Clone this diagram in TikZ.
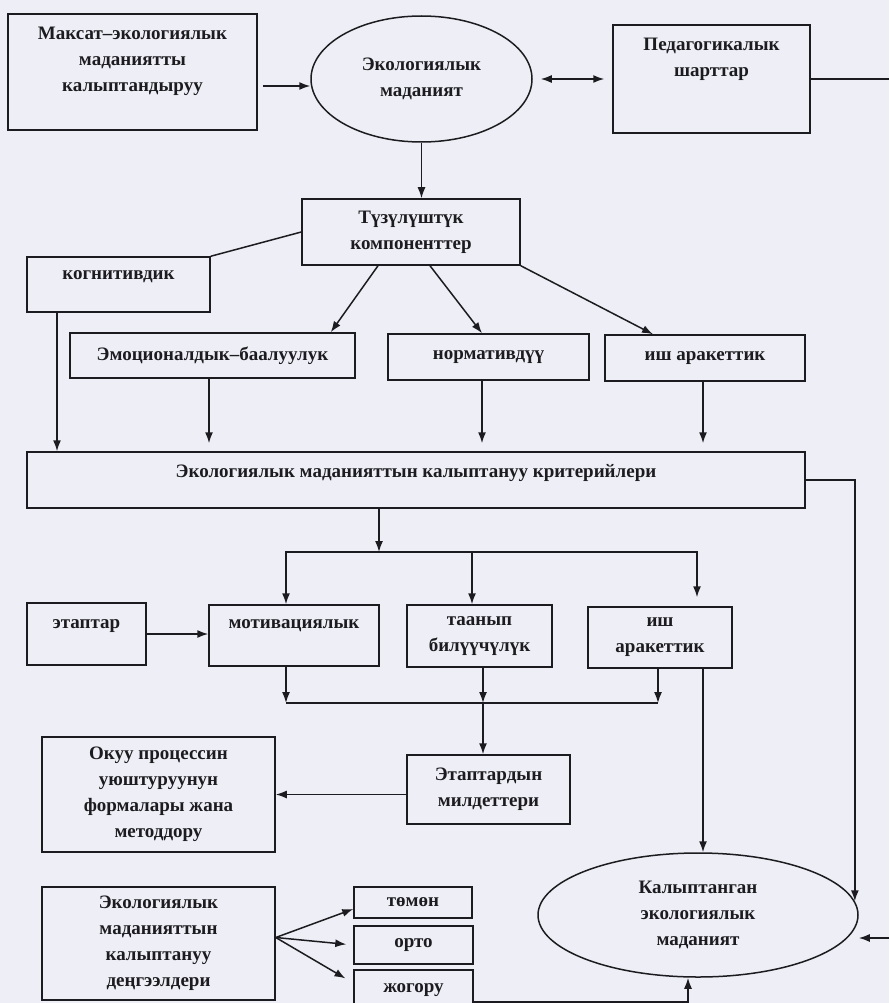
\documentclass[tikz,border=0pt]{standalone}
\usepackage{fontspec}
\setmainfont{Liberation Serif}
\usetikzlibrary{arrows.meta,shapes.geometric}

\definecolor{paper}{RGB}{238,238,246}
\definecolor{ink}{RGB}{28,28,32}

% extra depth under the last line, to lift the text in its box
\newcommand{\padbelow}[1]{\rule[-#1pt]{0pt}{#1pt}}

\tikzset{
  box/.style={draw=ink, line width=1.5pt, align=center, inner sep=0pt, text=ink,
    font=\bfseries\fontsize{19}{26}\selectfont},
  oval/.style={box, ellipse},
  link/.style={draw=ink, line width=1.5pt},
  >={Latex[length=11pt,width=8pt]}
}

\begin{document}
\begin{tikzpicture}[x=1pt,y=-1pt]

% Paper
\fill[paper] (0,0) rectangle (889,1003);
\useasboundingbox (0,0) rectangle (889,1003);

% Draw the top row
\node[box, minimum width=249pt, minimum height=116pt] (maksat) at (132.5,72) {Максат–экологиялык\\маданиятты\\калыптандыруу\padbelow{25}};
\node[oval, minimum width=221pt, minimum height=126pt] (ekomad) at (421.5,79) {Экологиялык\\маданият};
\node[box, minimum width=197pt, minimum height=108pt] (peda) at (711.5,79) {Педагогикалык\\шарттар\padbelow{43}};
\coordinate (rimtop) at (889,79);

% Draw the components
\node[box, minimum width=218pt, minimum height=66pt] (tuzul) at (411,232) {Түзүлүштүк\\компоненттер};
\node[box, minimum width=183pt, minimum height=55pt] (kogn) at (118.5,284.5) {когнитивдик\padbelow{18}};
\node[box, minimum width=285pt, minimum height=45pt] (emo) at (212.5,355.5) {Эмоционалдык–баалуулук};
\node[box, minimum width=201pt, minimum height=46pt] (norm) at (488.5,357) {нормативдүү};
\node[box, minimum width=200pt, minimum height=46pt] (ish1) at (705,358) {иш аракеттик};

% Criteria and stages
\node[box, minimum width=778pt, minimum height=56pt] (krit) at (416,480) {Экологиялык маданияттын калыптануу критерийлери\padbelow{18}};
\node[box, minimum width=119pt, minimum height=62pt] (etap) at (86.5,634) {этаптар\padbelow{20}};
\node[box, minimum width=170pt, minimum height=61pt] (motiv) at (294,635.5) {мотивациялык\padbelow{22}};
\node[box, minimum width=145pt, minimum height=62pt] (taanyp) at (479.5,636) {таанып\\билүүчүлүк};
\node[box, minimum width=144pt, minimum height=61pt] (ish2) at (660,637.5) {иш\\аракеттик};

% Tasks, forms and levels
\node[box, minimum width=163pt, minimum height=69pt] (etmil) at (488.5,789.5) {Этаптардын\\милдеттери};
\node[box, minimum width=233pt, minimum height=115pt] (okuu) at (158.5,794.5) {Окуу процессин\\уюштуруунун\\формалары жана\\методдору};
\node[box, minimum width=233pt, minimum height=113pt] (ekodeng) at (158.5,943.5) {Экологиялык\\маданияттын\\калыптануу\\деңгээлдери};
\node[box, minimum width=118pt, minimum height=31pt] (tomon) at (413,902.5) {төмөн};
\node[box, minimum width=119pt, minimum height=38pt] (orto) at (413.5,945) {орто};
\node[box, minimum width=119pt, minimum height=40pt] (jogoru) at (413.5,990) {жогору};
\node[oval, minimum width=320pt, minimum height=124pt] (kalyp) at (698,915) {Калыптанган\\экологиялык\\маданият};
\coordinate (rimlow) at (889,938);

% Arrows of the top row
\draw[link,->,shorten <=5pt] ([yshift=-14pt]maksat.east) -- ([yshift=-7pt]ekomad.west);
\draw[link,<->,shorten <=8pt,shorten >=8pt] (ekomad.east) -- (peda.west);
\draw[link] (peda.east) -- (rimtop);
\draw[link,->] (ekomad.south) -- (ekomad.south |- tuzul.north);

% Arrows to the components
\draw[link] (tuzul.west) -- (kogn.north east);
\draw[link,->] ([xshift=-33pt]tuzul.south) -- ([xshift=-25pt]emo.north east);
\draw[link,->] ([xshift=19pt]tuzul.south) -- ([xshift=-6.5pt]norm.north);
\draw[link,->] (tuzul.south east) -- ([xshift=-52pt]ish1.north);

% Arrows down to the criteria
\coordinate (kg) at ([xshift=-61.5pt]kogn.south);
\coordinate (em) at ([xshift=-3.5pt]emo.south);
\coordinate (nm) at ([xshift=-6.5pt]norm.south);
\coordinate (is) at ([xshift=-2pt]ish1.south);
\draw[link,->] (kg) -- (kg |- krit.north);
\foreach \c in {em,nm,is} {
    \draw[link,->,shorten >=8pt] (\c) -- (\c |- krit.north);
}
\draw[link,->] (krit.east) -| (kalyp.5.7);

% Fork under the criteria
\coordinate (fork) at (379,552);
\coordinate (mtop) at ([xshift=-8pt]motiv.north);
\coordinate (ttop) at ([xshift=-7.5pt]taanyp.north);
\coordinate (itop) at ([xshift=37pt]ish2.north);
\draw[link,->] ([xshift=-37pt]krit.south) -- (fork);
\draw[link,->] (fork) -| (mtop);
\draw[link,->,shorten >=9pt] (fork) -| (itop);
\draw[link,->] (ttop |- fork) -- (ttop);
\draw[link,->] (etap.east) -- (etap.east -| motiv.west);

% Merge above the tasks
\coordinate (merge) at (483,703);
\coordinate (mbot) at ([xshift=-8pt]motiv.south);
\coordinate (tbot) at ([xshift=3.5pt]taanyp.south);
\coordinate (ibot) at ([xshift=-2pt]ish2.south);
\coordinate (ifar) at ([xshift=43pt]ish2.south);
\foreach \c in {mbot,tbot,ibot} {
    \draw[link,->] (\c) -- (\c |- merge);
}
\draw[link] (mbot |- merge) -- (ibot |- merge);
\draw[link,->] (merge) -- (merge |- etmil.north);
\draw[link,<-] (okuu.east) -- (okuu.east -| etmil.west);
\draw[link,->] (ifar) -- (ifar |- kalyp.north);

% Levels
\draw[link,->] ([yshift=6pt]ekodeng.east) -- ([yshift=-6.5pt]tomon.west);
\draw[link,->,shorten >=7pt] ([yshift=6pt]ekodeng.east) -- (orto.west);
\draw[link,->,shorten >=9pt] ([yshift=6pt]ekodeng.east) -- ([yshift=7pt]jogoru.west);
\draw[link,->] ([yshift=9pt]jogoru.south east) -| ([xshift=-10pt]kalyp.south);
\draw[link,->] (rimlow) -- (rimlow -| kalyp.east);

\end{tikzpicture}
\end{document}
